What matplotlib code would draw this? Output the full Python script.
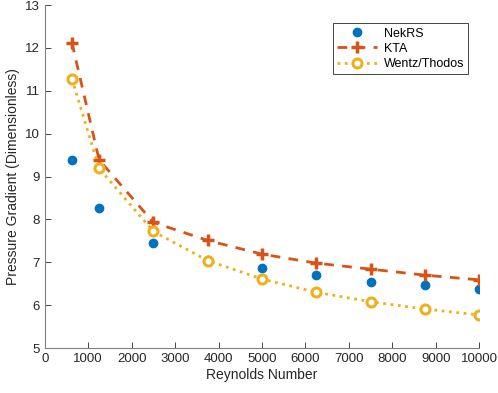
import matplotlib
matplotlib.use("Agg")
import matplotlib.pyplot as plt

plt.rcParams['font.family'] = ['Liberation Sans', 'DejaVu Sans']

reynolds = [625, 1250, 2500, 3750, 5000, 6250, 7500, 8750, 10000]
nekrs = [9.39, 8.27, 7.46, 7.06, 6.86, 6.71, 6.54, 6.47, 6.37]
kta = [12.12, 9.39, 7.93, 7.51, 7.19, 6.98, 6.84, 6.70, 6.59]
wentz = [11.28, 9.19, 7.72, 7.04, 6.61, 6.30, 6.08, 5.91, 5.77]

fig = plt.figure(figsize=(4.98, 3.93), dpi=100)
ax = fig.add_axes([0.090, 0.1145, 0.872, 0.8725])

ax.plot(reynolds, nekrs, 'o', color='#0072BD', markersize=6, label='NekRS')
ax.plot(reynolds, kta, '--+', color='#D95319', lw=2, markersize=8, mew=2.5,
        dashes=(3.5, 3), label='KTA')
ax.plot(reynolds, wentz, ':o', color='#EDB120', lw=2, markersize=6.5, mew=2.2,
        mfc='white', label='Wentz/Thodos')

ax.set_xlim(0, 10000)
ax.set_ylim(5, 13)
ax.set_xticks(range(0, 10001, 1000))
ax.set_yticks(range(5, 14))
ax.set_xlabel('Reynolds Number', fontsize=10, color='#262626', labelpad=2)
ax.set_ylabel('Pressure Gradient (Dimensionless)', fontsize=10, color='#262626', labelpad=4)
ax.tick_params(direction='in', labelsize=9.5, colors='#262626', length=4, width=0.6)
for side in ['top', 'right']:
    ax.spines[side].set_visible(False)
for side in ['left', 'bottom']:
    ax.spines[side].set_color('#808080')
    ax.spines[side].set_linewidth(0.8)

leg = ax.legend(loc='upper right', bbox_to_anchor=(0.99, 0.965), fontsize=9,
                fancybox=False, edgecolor='#262626', framealpha=1,
                handlelength=3.2, handletextpad=0.5, borderpad=0.35,
                labelspacing=0.25)
leg.get_frame().set_linewidth(0.6)

plt.savefig("out.png", dpi=100)
